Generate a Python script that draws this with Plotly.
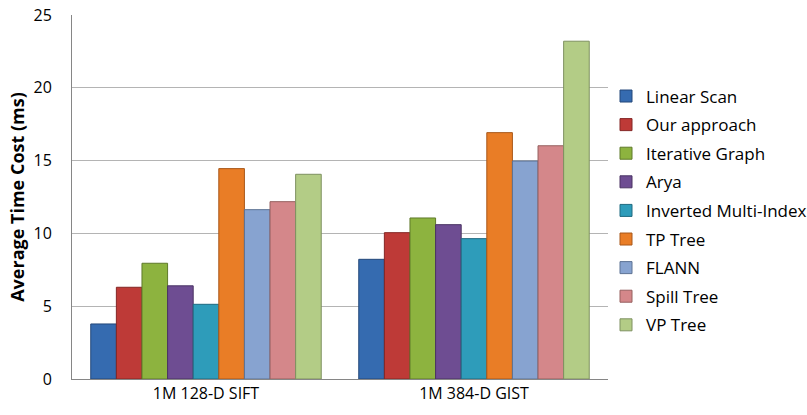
import plotly.graph_objects as go

categories = ["1M 128-D SIFT", "1M 384-D GIST"]
methods = ["Linear Scan", "Our approach", "Iterative Graph", "Arya",
           "Inverted Multi-Index", "TP Tree", "FLANN", "Spill Tree", "VP Tree"]
linear_scan = [3.78, 8.22]
our_approach = [6.3, 10.05]
iterative_graph = [7.95, 11.06]
arya = [6.4, 10.6]
inverted_multi_index = [5.13, 9.64]
tp_tree = [14.45, 16.92]
flann = [11.63, 14.97]
spill_tree = [12.18, 16.02]
vp_tree = [14.06, 23.2]
y_ticks = [0, 5, 10, 15, 20, 25]

series = [linear_scan, our_approach, iterative_graph, arya, inverted_multi_index,
          tp_tree, flann, spill_tree, vp_tree]
colors = ["#356BB0", "#BE3A37", "#8DB33F", "#6E4D92", "#2E9CBA",
          "#E97D26", "#87A3D0", "#D4878A", "#B3CC86"]
edges = ["#24487A", "#842624", "#5F7A2A", "#4A3363", "#1F6A80",
         "#A9581A", "#5C7294", "#96605F", "#7E9160"]

fig = go.Figure()
for i, (name, vals) in enumerate(zip(methods, series)):
    fig.add_trace(go.Bar(
        x=categories, y=vals, name=name,
        legendgroup=name,
        marker=dict(color=colors[i], line=dict(color=edges[i], width=1)),
    ))

W, H = 807, 415
L, T, R, B = 72, 15, 199, 36
fig.update_layout(
    width=W, height=H,
    margin=dict(l=L, r=R, t=T, b=B, autoexpand=False),
    paper_bgcolor="white", plot_bgcolor="white",
    barmode="group", bargap=0.14, bargroupgap=0,
    font=dict(family="Open Sans, Liberation Sans, sans-serif", size=16, color="#000000"),
    legend=dict(x=(606 - L) / (W - L - R), xanchor="left",
                y=0.463, yanchor="middle",
                font=dict(size=17), tracegroupgap=3.5, itemwidth=30,
                traceorder="grouped", bgcolor="rgba(0,0,0,0)"),
    showlegend=True,
)
fig.update_yaxes(range=[0, 25], tickvals=y_ticks, showgrid=True,
                 gridcolor="#B4B4B4", gridwidth=1, showline=True,
                 linecolor="#868686", linewidth=1, zeroline=False,
                 ticks="", ticklabelstandoff=16,
                 tickfont=dict(size=16), automargin=False,
                 title=dict(text="<b>Average Time Cost (ms)</b>", font=dict(size=18), standoff=4))
fig.update_xaxes(showline=True, linecolor="#868686", linewidth=1,
                 tickfont=dict(size=16), ticks="", automargin=False)

fig.write_html("out.html", config={"displayModeBar": False},
               post_script="document.body.style.margin='0';document.body.style.overflow='hidden';")
